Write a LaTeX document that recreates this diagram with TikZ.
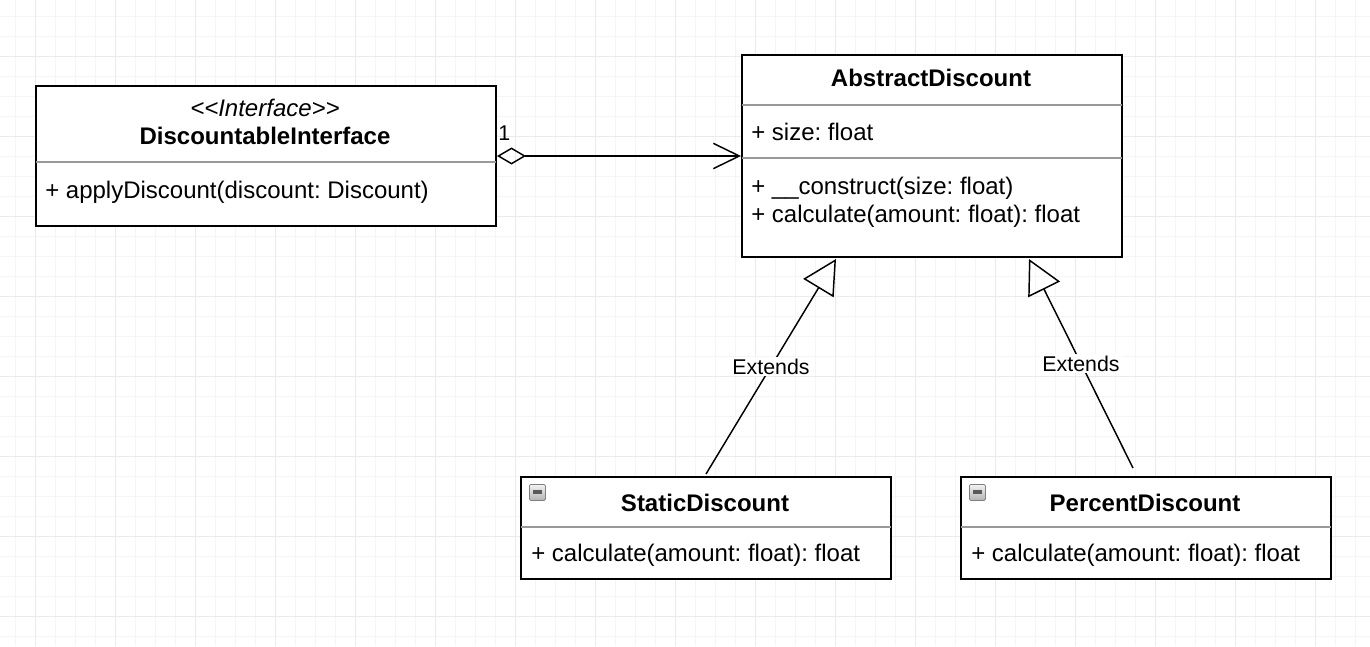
\documentclass[tikz,border=0pt]{standalone}
\usepackage{fontspec}
\setmainfont{Liberation Sans}
\usetikzlibrary{arrows.meta,calc}
\frenchspacing
\begin{document}
\frenchspacing
\begin{tikzpicture}[x=0.75pt,y=-0.75pt,
  umlbox/.style={draw=black,line width=1.5pt,fill=white,rectangle,inner sep=0pt,anchor=north west},
  divider/.style={draw=black!40,line width=1pt},
  title/.style={font=\fontsize{18}{21}\selectfont\bfseries,inner sep=0pt,anchor=base},
  stereo/.style={font=\fontsize{18}{21}\selectfont\itshape,inner sep=0pt,anchor=base},
  member/.style={font=\fontsize{18}{21}\selectfont,inner sep=0pt,anchor=base west},
  conn/.style={line width=1.1pt,draw=black},
  lbl/.style={font=\fontsize{16}{19}\selectfont,fill=white,inner sep=1.5pt},
  mult/.style={font=\fontsize{16}{19}\selectfont,inner sep=0pt,anchor=base west},
  minorgrid/.style={draw=black!4,line width=0.75pt},
  majorgrid/.style={draw=black!8,line width=0.75pt},
  iconbox/.style={draw=black!50,line width=0.6pt,rounded corners=1pt,top color=black!5,bottom color=black!30,minimum width={16*0.75pt},minimum height={16*0.75pt},inner sep=0pt,anchor=north west},
]
\useasboundingbox (0,0) rectangle (1370,646);
\fill[white] (0,0) rectangle (1370,646);
% grid
\foreach \i in {0,...,68} { \draw[minorgrid] (15+20*\i,0) -- (15+20*\i,646); }
\foreach \j in {0,...,31} { \draw[minorgrid] (0,16+20*\j) -- (1370,16+20*\j); }
\foreach \i in {0,...,16} { \draw[majorgrid] (35+80*\i,0) -- (35+80*\i,646); }
\foreach \j in {0,...,7} { \draw[majorgrid] (0,56+80*\j) -- (1370,56+80*\j); }

% DiscountableInterface
\node[umlbox,minimum width={460*0.75pt},minimum height={140*0.75pt}] (iface) at (35,85) {};
\draw[divider] ($(iface.north west)+(1,77)$) -- ($(iface.north east)+(-1,77)$);
\node[stereo] (ifst) at (265,116) {<\kern0pt<Interface>\kern0pt>};
\node[title] (ifti) at (265,144) {DiscountableInterface};
\node[member] (ifm1) at (45,198) {+ applyDiscount(discount: Discount)};

% AbstractDiscount
\node[umlbox,minimum width={380*0.75pt},minimum height={202*0.75pt}] (abs) at (741,54) {};
\draw[divider] ($(abs.north west)+(1,51)$) -- ($(abs.north east)+(-1,51)$);
\draw[divider] ($(abs.north west)+(1,104)$) -- ($(abs.north east)+(-1,104)$);
\node[title] (absti) at (931,86) {AbstractDiscount};
\node[member] (absa1) at (751,140) {+ size: float};
\node[member] (absm1) at (751,194) {+ \_\_construct(size: float)};
\node[member] (absm2) at (751,222) {+ calculate(amount: float): float};

% StaticDiscount
\node[umlbox,minimum width={370*0.75pt},minimum height={102*0.75pt}] (static) at (520,476) {};
\draw[divider] ($(static.north west)+(1,51)$) -- ($(static.north east)+(-1,51)$);
\node[iconbox] (sicon) at (529,484) {};
\fill[black!65] ($(sicon.center)+(-4.5,-2)$) rectangle ($(sicon.center)+(4.5,2)$);
\node[title] (stti) at (705,511) {StaticDiscount};
\node[member] (stm1) at (531,561) {+ calculate(amount: float): float};

% PercentDiscount
\node[umlbox,minimum width={370*0.75pt},minimum height={102*0.75pt}] (pct) at (960,476) {};
\draw[divider] ($(pct.north west)+(1,51)$) -- ($(pct.north east)+(-1,51)$);
\node[iconbox] (picon) at (969,484) {};
\fill[black!65] ($(picon.center)+(-4.5,-2)$) rectangle ($(picon.center)+(4.5,2)$);
\node[title] (pcti) at (1145,511) {PercentDiscount};
\node[member] (pcm1) at (971,561) {+ calculate(amount: float): float};

% aggregation
\draw[conn,{Diamond[open,length=21.75pt,width=12.75pt]}-{Straight Barb[length=19.5pt,width=19pt]}] (iface.east) -- (abs.west);
\node[mult] (m1) at (498,140) {1};

% generalizations
\coordinate (tipL) at ($(abs.south)+(-96,1)$);
\coordinate (tipR) at ($(abs.south)+(97,1)$);
\coordinate (endR) at (1133,468);
\draw[conn,-{Triangle[open,length=25.5pt,width=26.5pt]}] ([yshift=1.5pt]static.north) -- node[lbl,pos=0.5] (ext1) {Extends} (tipL);
\draw[conn,-{Triangle[open,length=25.5pt,width=26.5pt]}] (endR) -- node[lbl,pos=0.5] (ext2) {Extends} (tipR);
\end{tikzpicture}
\end{document}
